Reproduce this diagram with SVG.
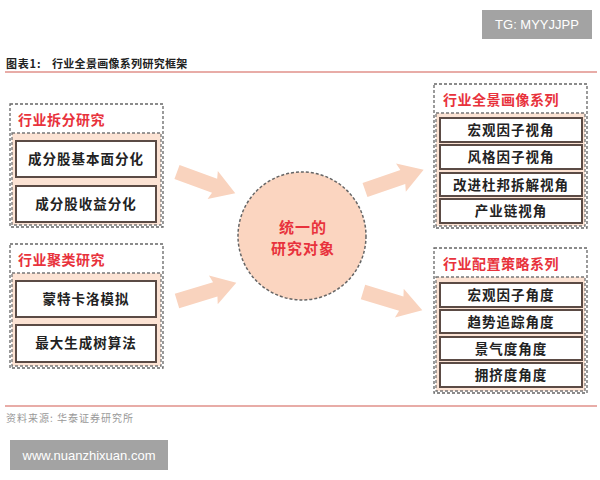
<svg xmlns="http://www.w3.org/2000/svg" xmlns:xlink="http://www.w3.org/1999/xlink" width="600" height="480" viewBox="0 0 600 480">
<style>
.cjk{font-family:"Noto Sans CJK SC","Noto Sans",sans-serif;}
.outer{fill:#fff;stroke:#666;stroke-width:1.3;stroke-dasharray:3 2;}
.sect{fill:#fce3d4;stroke:#777;stroke-width:1.3;stroke-dasharray:3 2;}
.box{fill:#fff;stroke:#5b4b45;stroke-width:2;}
.hdr{font-size:14px;font-weight:bold;fill:#e8323c;letter-spacing:0.5px;}
.lbl{font-size:13.5px;font-weight:bold;fill:#222;text-anchor:middle;letter-spacing:1px;}
.arr{fill:#f9d3be;}
.wm{fill:#a3a3a3;}
.wmt{font-family:"Liberation Sans",Arial,sans-serif;font-size:13px;fill:#fff;}
</style>
<defs>
<path id="arrow" d="M0,-7.5 L40,-7.5 L38,-15 L62,0 L38,15 L40,7.5 L0,7.5 Z"/>
</defs>
<rect x="0" y="0" width="600" height="480" fill="#fff"/>

<g id="watermark-top">
<rect class="wm" x="482" y="10" width="110" height="29"/>
<text class="wmt" x="537" y="29" text-anchor="middle">TG: MYYJJPP</text>
</g>

<g id="title" class="cjk" font-size="11" font-weight="bold" fill="#222">
<text x="6" y="68" letter-spacing="0.8">图表1:</text>
<text x="52" y="68" letter-spacing="0.3">行业全景画像系列研究框架</text>
<line x1="5" y1="72" x2="597" y2="72" stroke="#e0908a" stroke-width="1.5"/>
</g>

<g id="connectors">
<use href="#arrow" class="arr" transform="translate(177,172) rotate(20)"/>
<use href="#arrow" class="arr" transform="translate(177,301) rotate(-17)"/>
<use href="#arrow" class="arr" transform="translate(365,190) rotate(-19)"/>
<use href="#arrow" class="arr" transform="translate(363,292) rotate(17)"/>
</g>

<g id="group-split" class="cjk">
<rect class="outer" x="10" y="104" width="153" height="123"/>
<text class="hdr" x="18" y="125">行业拆分研究</text>
<rect class="sect" x="12" y="133" width="149" height="92"/>
<g id="node-fundamental"><rect class="box" x="16" y="141" width="140" height="36"/><text class="lbl" x="86" y="164">成分股基本面分化</text></g>
<g id="node-return"><rect class="box" x="16" y="186" width="140" height="36"/><text class="lbl" x="86" y="209">成分股收益分化</text></g>
</g>

<g id="group-cluster" class="cjk">
<rect class="outer" x="10" y="244" width="153" height="124"/>
<text class="hdr" x="18" y="265">行业聚类研究</text>
<rect class="sect" x="12" y="273" width="149" height="93"/>
<g id="node-montecarlo"><rect class="box" x="16" y="281" width="140" height="36"/><text class="lbl" x="86" y="304">蒙特卡洛模拟</text></g>
<g id="node-mst"><rect class="box" x="16" y="325" width="140" height="37"/><text class="lbl" x="86" y="348">最大生成树算法</text></g>
</g>

<g id="node-center" class="cjk">
<circle cx="302" cy="236" r="64" fill="#fbd5c0" stroke="#666" stroke-width="1.5" stroke-dasharray="3 2"/>
<text x="303" y="233" font-size="15" font-weight="bold" fill="#e8323c" text-anchor="middle" letter-spacing="1">统一的</text>
<text x="303" y="254" font-size="15" font-weight="bold" fill="#e8323c" text-anchor="middle" letter-spacing="1">研究对象</text>
</g>

<g id="group-portrait" class="cjk">
<rect class="outer" x="434" y="84" width="153" height="144"/>
<text class="hdr" x="443" y="105">行业全景画像系列</text>
<rect class="sect" x="436" y="113" width="149" height="113"/>
<g id="node-macro-view"><rect class="box" x="440" y="118" width="142" height="24"/><text class="lbl" x="511" y="135">宏观因子视角</text></g>
<g id="node-style-view"><rect class="box" x="440" y="145" width="142" height="24"/><text class="lbl" x="511" y="162">风格因子视角</text></g>
<g id="node-dupont-view"><rect class="box" x="440" y="173" width="142" height="23"/><text class="lbl" x="511" y="189.5">改进杜邦拆解视角</text></g>
<g id="node-chain-view"><rect class="box" x="440" y="199" width="142" height="24"/><text class="lbl" x="511" y="216">产业链视角</text></g>
</g>

<g id="group-allocation" class="cjk">
<rect class="outer" x="434" y="248" width="153" height="145"/>
<text class="hdr" x="443" y="269">行业配置策略系列</text>
<rect class="sect" x="436" y="277" width="149" height="114"/>
<g id="node-macro-angle"><rect class="box" x="440" y="283" width="142" height="24"/><text class="lbl" x="511" y="300">宏观因子角度</text></g>
<g id="node-trend-angle"><rect class="box" x="440" y="310" width="142" height="23"/><text class="lbl" x="511" y="326.5">趋势追踪角度</text></g>
<g id="node-boom-angle"><rect class="box" x="440" y="337" width="142" height="23"/><text class="lbl" x="511" y="353.5">景气度角度</text></g>
<g id="node-crowd-angle"><rect class="box" x="440" y="363" width="142" height="24"/><text class="lbl" x="511" y="380">拥挤度角度</text></g>
</g>

<g id="footer">
<line x1="5" y1="406" x2="597" y2="406" stroke="#e0908a" stroke-width="1.5"/>
<text class="cjk" x="6" y="422" font-size="10" fill="#999" letter-spacing="1">资料来源: 华泰证券研究所</text>
</g>

<g id="watermark-bottom">
<rect class="wm" x="10" y="440" width="158" height="30"/>
<text class="wmt" x="89" y="460" text-anchor="middle">www.nuanzhixuan.com</text>
</g>
</svg>
